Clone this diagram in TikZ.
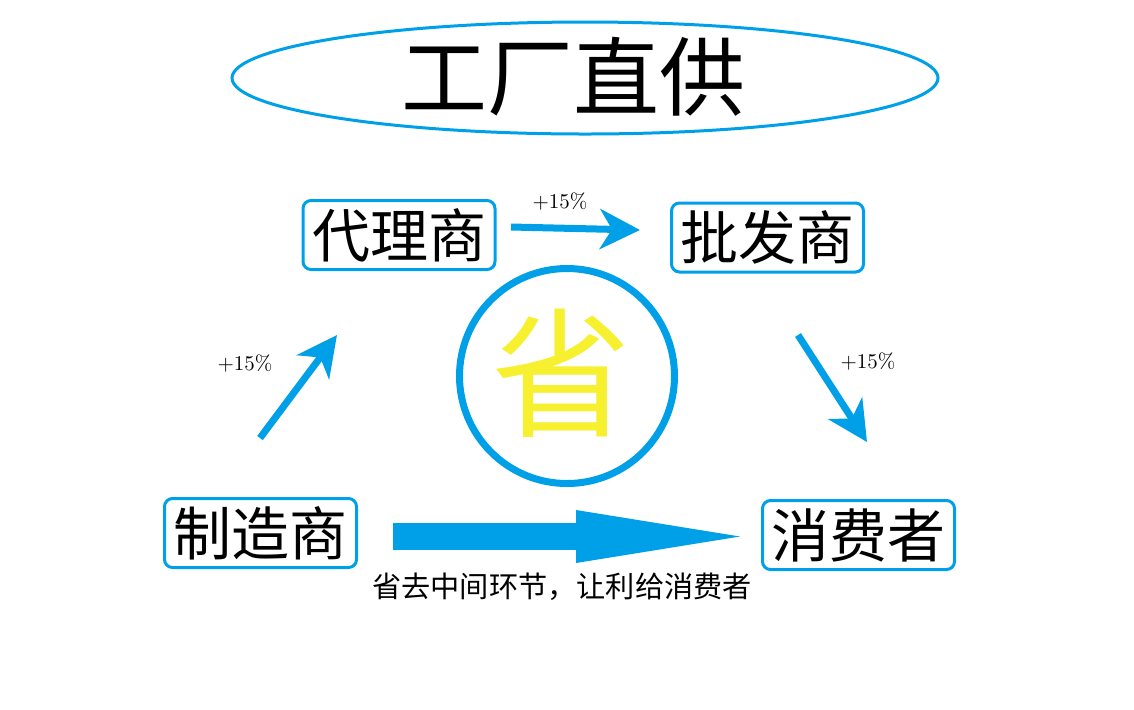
\documentclass[tikz,border=0pt]{standalone}
\usepackage{fontspec}
\usepackage{tikz}
\newfontfamily\cjk{Noto Sans CJK SC}
\definecolor{skyblue}{RGB}{0,160,233}
\definecolor{shengyellow}{RGB}{246,240,46}
\usetikzlibrary{arrows.meta}
\usetikzlibrary{shapes}
\tikzset{
  treenode/.style = {align=center, inner sep=0pt, text centered,
    font=\cjk},
  chain_box/.style = {treenode, rectangle, rounded corners=4pt, draw=skyblue,
    line width=1.5pt, minimum width=96pt, minimum height=34.5pt,
    font=\cjk\fontsize{29}{29}\selectfont},% one link of the sales chain
  flow_arr/.style = {-{Stealth[length=20pt,width=20pt,inset=6pt]}, skyblue,
    line width=3.5pt},% small arrow, +15% per step
  big_arr/.style = {-{Triangle[length=82pt,width=26.5pt,line width=0pt]}, skyblue,
    line width=13.5pt},% direct supply
  pct/.style = {treenode, font=\fontsize{10.5}{10.5}\selectfont},
}

\begin{document}
\begin{tikzpicture}[x=0.5pt,y=-0.5pt]
  \useasboundingbox (0,0) rectangle (1134,709);
  % title
  \node[ellipse, draw=skyblue, line width=1.5pt, inner sep=0pt,
    minimum width=353pt, minimum height=56pt] (title_ring) at (585,78) {};
  \node[treenode, font=\cjk\fontsize{43}{43}\selectfont] (title) at (573,77) {工厂直供};

  % chain
  \node[chain_box] (daili) at (399,235) {代理商};
  \node[chain_box] (pifa) at (767.5,237.5) {批发商};
  \node[chain_box] (zhizao) at (260.5,533) {制造商};
  \node[chain_box] (xiaofei) at (858.5,535) {消费者};

  % save
  \node[circle, draw=skyblue, line width=3.5pt, inner sep=0pt,
    minimum size=107.5pt] (ring) at (567,376) {};
  \node[treenode, shengyellow, font=\cjk\fontsize{70}{70}\selectfont] (sheng) at (561,373) {省};

  \coordinate (a1s) at (260,438);
  \coordinate (a1e) at (337,335);
  \coordinate (a2s) at (511,227);
  \coordinate (a2e) at (640,230);
  \coordinate (a3s) at (798,335);
  \coordinate (a3e) at (867,442);
  \coordinate (big_s) at (393,536.5);
  \coordinate (big_e) at (740,536.5);

  \draw[flow_arr] (a1s) -- (a1e);
  \draw[flow_arr] (a2s) -- (a2e);
  \draw[flow_arr] (a3s) -- (a3e);
  \draw[big_arr] (big_s) -- (big_e);

  \node[pct] (p1) at (245,363) {+15\%};
  \node[pct] (p2) at (560,201) {+15\%};
  \node[pct] (p3) at (868,361) {+15\%};
  \node[treenode, font=\cjk\fontsize{14.6}{14.6}\selectfont] (slogan) at (562,587) {省去中间环节，让利给消费者};
\end{tikzpicture}
\end{document}
